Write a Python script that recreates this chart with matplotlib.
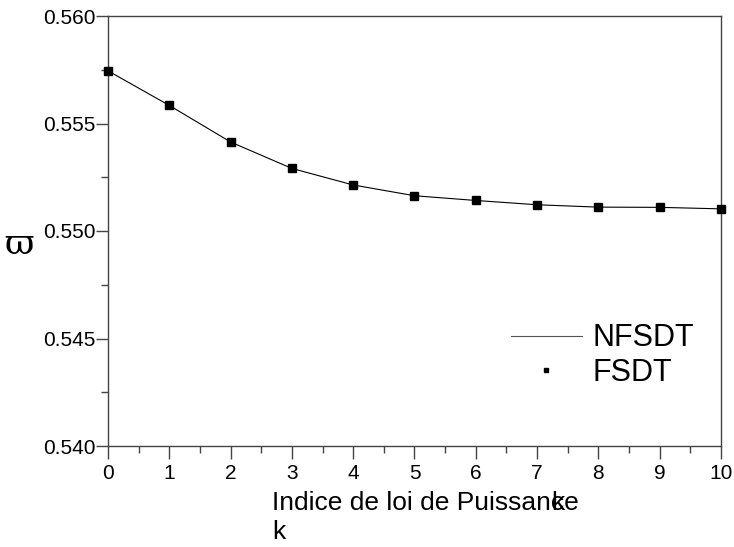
import numpy as np
import matplotlib
matplotlib.use('Agg')
import matplotlib.pyplot as plt
from matplotlib.ticker import MultipleLocator

# Values
k_values = [0, 1, 2, 3, 4, 5, 6, 7, 8, 9, 10]
nfsdt = [0.55745, 0.55584, 0.55414, 0.55291, 0.55214, 0.55164,
         0.55142, 0.55122, 0.55111, 0.55110, 0.55103]
fsdt = [0.55745, 0.55584, 0.55414, 0.55291, 0.55214, 0.55164,
        0.55142, 0.55122, 0.55111, 0.55111, 0.55103]
y_ticks = [0.540, 0.545, 0.550, 0.555, 0.560]

plt.rcParams['font.family'] = ['Liberation Sans', 'DejaVu Sans']

fig = plt.figure(figsize=(7.34, 5.47), dpi=100)
ax = fig.add_axes([108 / 734, 1 - 446 / 547, (721 - 108) / 734, (446 - 16) / 547])

ax.plot(k_values, nfsdt, color='black', linewidth=0.8, label='NFSDT')
ax.plot(k_values, fsdt, linestyle='none', marker='s', markersize=6,
        color='black', label='FSDT', clip_on=False, zorder=3)

ax.set_xlim(0, 10)
ax.set_ylim(0.540, 0.560)
ax.set_xticks(k_values)
ax.set_yticks(y_ticks)
ax.set_yticklabels(['%.3f' % v for v in y_ticks])
ax.xaxis.set_minor_locator(MultipleLocator(0.5))
ax.yaxis.set_minor_locator(MultipleLocator(0.0025))
ax.tick_params(which='both', direction='out', top=False, right=False,
               labelsize=15, color='#444444')
ax.tick_params(which='major', length=9, width=1)
ax.tick_params(which='minor', length=5, width=1)
ax.tick_params(axis='y', pad=0)
ax.tick_params(axis='x', pad=4)
for s in ax.spines.values():
    s.set_color('#444444')
    s.set_linewidth(1)

leg = ax.legend(loc='upper left', bbox_to_anchor=((496 - 108) / 613, (446 - 308) / 430),
                frameon=False, fontsize=22, handlelength=2.3, handletextpad=0.35,
                markerscale=0.55, labelspacing=0.15, borderpad=0)
leg.get_lines()[0].set_color('#555555')

fig.text(272 / 734, 1 - 491 / 547, 'Indice de loi de Puissance\nk', fontsize=19,
         ha='left', va='top', linespacing=1.25)
fig.text(551 / 734, 1 - 491 / 547, 'k', fontsize=19, ha='left', va='top')
fig.text(19 / 734, 1 - 244 / 547, '\u03d6', fontsize=26,
         family='DejaVu Serif', ha='center', va='center')

fig.savefig('out.png', dpi=100)
